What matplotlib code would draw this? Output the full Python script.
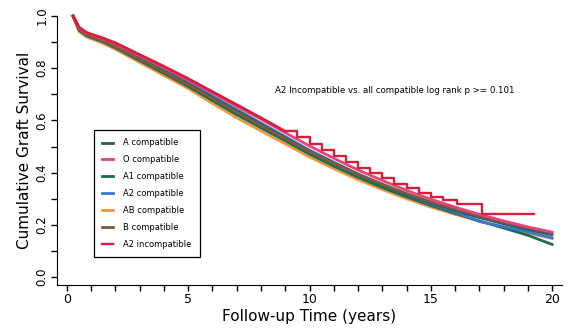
import numpy as np
import matplotlib
matplotlib.use("Agg")
import matplotlib.pyplot as plt
from matplotlib.ticker import MultipleLocator

# follow-up knots (years)
t = [0.25, 0.5, 0.8, 1.5, 2, 3, 4, 5, 6, 7, 8, 9, 10, 11, 12, 13, 14, 15, 16, 17, 18, 19, 20]

a_comp = [1.0, 0.95, 0.93, 0.905, 0.884, 0.836, 0.789, 0.74, 0.688, 0.636, 0.585, 0.533,
          0.482, 0.437, 0.393, 0.353, 0.316, 0.283, 0.255, 0.228, 0.204, 0.182, 0.162]
o_comp = [1.0, 0.955, 0.935, 0.912, 0.893, 0.848, 0.802, 0.755, 0.705, 0.655, 0.605, 0.553,
          0.502, 0.455, 0.41, 0.37, 0.332, 0.298, 0.268, 0.24, 0.215, 0.192, 0.172]
a1_comp = [1.0, 0.945, 0.925, 0.9, 0.878, 0.829, 0.78, 0.73, 0.676, 0.622, 0.572, 0.522,
           0.471, 0.425, 0.382, 0.343, 0.307, 0.274, 0.244, 0.215, 0.188, 0.16, 0.125]
a2_comp = [1.0, 0.952, 0.932, 0.908, 0.888, 0.841, 0.794, 0.745, 0.693, 0.642, 0.59, 0.538,
           0.486, 0.44, 0.395, 0.355, 0.316, 0.28, 0.25, 0.213, 0.193, 0.173, 0.15]
ab_comp = [1.0, 0.94, 0.92, 0.895, 0.872, 0.822, 0.772, 0.722, 0.665, 0.61, 0.56, 0.51,
           0.46, 0.415, 0.373, 0.335, 0.3, 0.268, 0.24, 0.214, 0.19, 0.168, 0.148]
b_comp = [1.0, 0.948, 0.928, 0.903, 0.882, 0.834, 0.786, 0.737, 0.684, 0.632, 0.58, 0.53,
          0.48, 0.436, 0.394, 0.356, 0.32, 0.288, 0.26, 0.234, 0.21, 0.189, 0.17]

# A2 incompatible: smooth early part, then visible KM steps
a2i_t1 = [0.25, 0.5, 0.8, 1.5, 2, 3, 4, 5, 6, 7, 8, 9]
a2i_s1 = [1.0, 0.957, 0.937, 0.915, 0.897, 0.852, 0.807, 0.76, 0.71, 0.66, 0.61, 0.558]
a2i_t2 = [9, 9.5, 10.0, 10.5, 11.0, 11.5, 12.0, 12.5, 13.0, 13.5, 14.0, 14.5, 15.0, 15.5,
          16.1, 17.1, 19.26]
a2i_s2 = [0.558, 0.536, 0.51, 0.487, 0.463, 0.44, 0.418, 0.398, 0.378, 0.358, 0.34, 0.322,
          0.305, 0.295, 0.281, 0.241, 0.241]

labels = ["A compatible", "O compatible", "A1 compatible", "A2 compatible",
          "AB compatible", "B compatible", "A2 incompatible"]
colors = ["#2f5a68", "#e8437a", "#1e6b4e", "#3a78d0", "#f2983a", "#7a5c3e", "#d61f3c"]

fig = plt.figure(figsize=(5.68, 3.30), dpi=100)
ax = fig.add_axes([0.1004, 0.136, 0.8886, 0.8155])

series = [a_comp, o_comp, a1_comp, a2_comp, ab_comp, b_comp]
# draw order: bottom ones first so the pink/red sit on top like in the scan
order = [4, 2, 3, 0, 5, 1]
handles = [None] * 7
for i in order:
    h, = ax.plot(t, series[i], color=colors[i], lw=2.0, label=labels[i],
                 solid_joinstyle="round", clip_on=False)
    handles[i] = h
ax.plot(a2i_t1, a2i_s1, color=colors[6], lw=2.0, clip_on=False)
h, = ax.step(a2i_t2, a2i_s2, where="post", color=colors[6], lw=1.7, label=labels[6])
handles[6] = h

ax.set_xlim(-0.41, 20.4)
ax.set_ylim(-0.031, 1.0)
ax.spines["top"].set_visible(False)
ax.spines["right"].set_visible(False)
ax.xaxis.set_major_locator(MultipleLocator(5))
ax.xaxis.set_minor_locator(MultipleLocator(1))
ax.yaxis.set_major_locator(MultipleLocator(0.2))
ax.yaxis.set_minor_locator(MultipleLocator(0.1))
ax.tick_params(which="both", direction="out", length=4, width=1)
ax.tick_params(axis="x", labelsize=9, pad=2)
ax.tick_params(axis="y", labelsize=8.5, pad=2)
ax.set_yticks([0.0, 0.2, 0.4, 0.6, 0.8, 1.0])
ax.set_yticklabels(["0.0", "0.2", "0.4", "0.6", "0.8", "1.0"], rotation=90, va="center")

ax.set_xlabel("Follow-up Time (years)", fontsize=11, labelpad=2)
ax.set_ylabel("Cumulative Graft Survival", fontsize=11, labelpad=3)

leg = ax.legend(handles=handles, loc="upper left", bbox_to_anchor=(0.073, 0.576),
                borderaxespad=0, fontsize=6, handlelength=1.3, handletextpad=1.2,
                labelspacing=0.95, fancybox=False, edgecolor="black",
                borderpad=1.0, framealpha=1)
leg.get_frame().set_linewidth(0.9)

ax.text(0.432, 0.725, "A2 Incompatible vs. all compatible log rank p >= 0.101",
        transform=ax.transAxes, fontsize=6.2, va="center", ha="left")

fig.savefig("out.png", dpi=100)
